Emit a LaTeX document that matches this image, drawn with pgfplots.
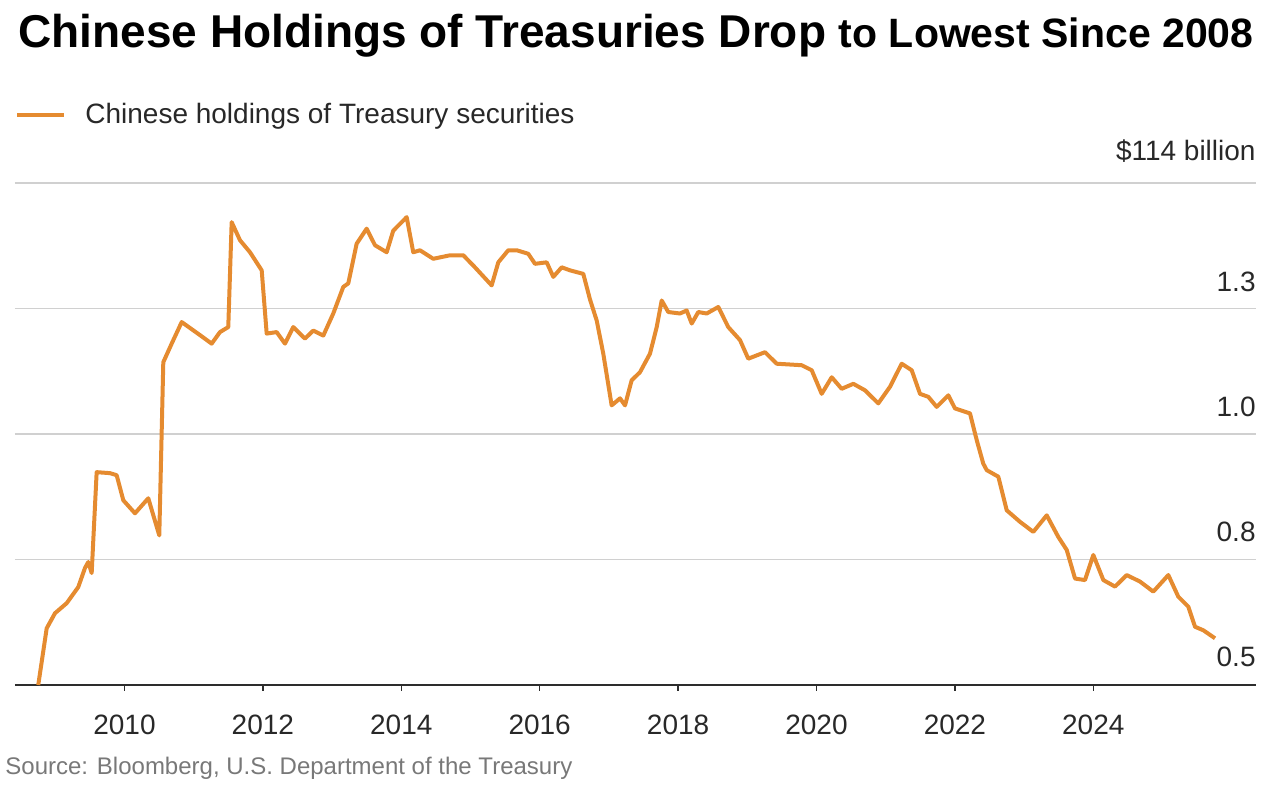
\documentclass[border=0pt]{standalone}
\usepackage{pgfplots}
\pgfplotsset{compat=1.18}
\usepackage{pgfplotstable}
\usepackage{fontspec}
\setmainfont{Liberation Sans}

\definecolor{lineorange}{RGB}{229,139,48}
\definecolor{gridgrey}{RGB}{208,208,208}
\definecolor{axisdark}{RGB}{45,45,45}
\definecolor{textdark}{RGB}{40,40,40}
\definecolor{sourcegrey}{RGB}{120,120,120}

% Chinese holdings of U.S. Treasury securities, $ trillion
\pgfplotstableread{
year      value
2008.754  0.500
2008.876  0.613
2008.996  0.643
2009.165  0.663
2009.332  0.695
2009.429  0.733
2009.477  0.745
2009.526  0.723
2009.598  0.924
2009.790  0.922
2009.887  0.918
2009.983  0.868
2010.152  0.842
2010.344  0.872
2010.503  0.798
2010.561  1.143
2010.682  1.180
2010.827  1.223
2011.091  1.197
2011.260  1.180
2011.380  1.203
2011.500  1.213
2011.549  1.422
2011.669  1.386
2011.814  1.362
2011.983  1.326
2012.055  1.200
2012.199  1.203
2012.319  1.180
2012.439  1.213
2012.608  1.190
2012.728  1.206
2012.873  1.196
2013.017  1.240
2013.162  1.293
2013.234  1.300
2013.355  1.379
2013.500  1.409
2013.620  1.376
2013.789  1.362
2013.884  1.405
2014.078  1.432
2014.173  1.362
2014.270  1.366
2014.462  1.349
2014.704  1.356
2014.896  1.356
2015.065  1.332
2015.306  1.296
2015.402  1.342
2015.546  1.366
2015.668  1.366
2015.835  1.359
2015.932  1.339
2016.101  1.342
2016.197  1.313
2016.318  1.332
2016.438  1.326
2016.630  1.319
2016.727  1.268
2016.824  1.226
2016.919  1.160
2017.040  1.057
2017.161  1.071
2017.233  1.057
2017.329  1.107
2017.449  1.123
2017.594  1.160
2017.691  1.213
2017.763  1.266
2017.858  1.243
2018.027  1.240
2018.124  1.246
2018.197  1.220
2018.292  1.243
2018.413  1.240
2018.581  1.253
2018.725  1.213
2018.895  1.187
2019.014  1.150
2019.256  1.163
2019.425  1.140
2019.786  1.137
2019.931  1.127
2020.075  1.080
2020.220  1.113
2020.364  1.090
2020.532  1.100
2020.701  1.087
2020.893  1.061
2021.062  1.094
2021.231  1.140
2021.376  1.127
2021.496  1.080
2021.616  1.074
2021.737  1.054
2021.905  1.077
2022.001  1.051
2022.218  1.041
2022.315  0.988
2022.410  0.941
2022.460  0.928
2022.627  0.915
2022.749  0.848
2022.941  0.825
2023.133  0.805
2023.327  0.838
2023.494  0.795
2023.616  0.769
2023.736  0.712
2023.880  0.709
2024.000  0.759
2024.145  0.709
2024.314  0.696
2024.483  0.719
2024.675  0.706
2024.867  0.686
2025.084  0.719
2025.228  0.676
2025.373  0.656
2025.470  0.616
2025.590  0.609
2025.759  0.593
}\holdings

\begin{document}
\begin{tikzpicture}
\path[use as bounding box] (0,0) rectangle (641pt,394pt);

% title
\node[anchor=base west, inner sep=0pt, text=black] at (9pt,370pt)
  {\fontsize{23}{26}\selectfont\bfseries Chinese Holdings of Treasuries Drop
   \fontsize{20.5}{24}\selectfont to Lowest Since 2008};

% source line
\node[anchor=base west, inner sep=0pt, text=sourcegrey] at (2.5pt,6.5pt)
  {\fontsize{12}{14}\selectfont Source: Bloomberg, U.S. Department of the Treasury};

\begin{axis}[
  at={(7.5pt,51.5pt)}, anchor=south west,
  scale only axis, width=620.5pt, height=251pt,
  xmin=2008.418, xmax=2026.351,
  ymin=0.5, ymax=1.5,
  clip=false,
  axis lines=left, separate axis lines,
  axis line style={-},
  x axis line style={draw=axisdark, line width=1.1pt},
  y axis line style={draw=none},
  xtick={2010,2012,...,2024},
  xticklabel style={anchor=base, yshift=-22pt, text=textdark,
    font=\fontsize{14}{16}\selectfont},
  /pgf/number format/1000 sep={},
  /pgf/number format/assume math mode=true,
  tick align=outside,
  major tick length=3pt,
  xtick style={draw=axisdark, line width=0.7pt},
  ytick={0.75,1,1.25,1.5},
  yticklabels={},
  ytick style={draw=none},
  ymajorgrids,
  major grid style={draw=gridgrey, line width=0.8pt},
  legend style={draw=none, fill=none, at={(0,1)}, anchor=west,
    xshift=0pt, yshift=34pt, inner sep=0pt,
    font=\fontsize{14}{16}\selectfont, text=textdark},
  legend cell align=left,
  legend image code/.code={%
    \draw[#1, line width=2pt] (0pt,0pt) -- (23.5pt,0pt);
    \path (31pt,0pt);},
]
\addplot[lineorange, line width=2pt, line join=round] table[x=year, y=value] {\holdings};
\addlegendentry{Chinese holdings of Treasury securities}

% value labels along the right edge
\node[anchor=base east, inner sep=0pt, text=textdark, font=\fontsize{14}{16}\selectfont]
  at (axis cs:2026.351,1.5) [yshift=11pt] {\$114 billion};
\node[anchor=base east, inner sep=0pt, text=textdark, font=\fontsize{14}{16}\selectfont]
  at (axis cs:2026.351,1.25) [yshift=8.5pt] {1.3};
\node[anchor=base east, inner sep=0pt, text=textdark, font=\fontsize{14}{16}\selectfont]
  at (axis cs:2026.351,1.0) [yshift=8.5pt] {1.0};
\node[anchor=base east, inner sep=0pt, text=textdark, font=\fontsize{14}{16}\selectfont]
  at (axis cs:2026.351,0.75) [yshift=9pt] {0.8};
\node[anchor=base east, inner sep=0pt, text=textdark, font=\fontsize{14}{16}\selectfont]
  at (axis cs:2026.351,0.5) [yshift=9pt] {0.5};
\end{axis}
\end{tikzpicture}
\end{document}
